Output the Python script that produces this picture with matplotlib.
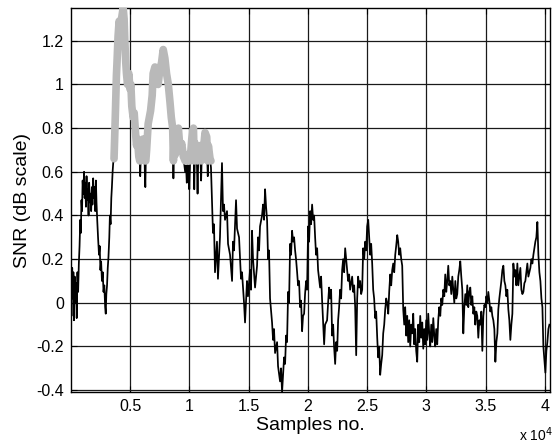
import numpy as np
import matplotlib
matplotlib.use('Agg')
import matplotlib.pyplot as plt

plt.rcParams['font.family'] = ['Liberation Sans', 'DejaVu Sans']

# SNR trace (sample no., dB)
samples = [
    0, 60, 120, 170, 220, 270, 330, 390, 450, 500, 560, 620, 680, 740, 800, 850, 900, 950,
    1000, 1060, 1120, 1170, 1220, 1280, 1330, 1390, 1440, 1500, 1550, 1610, 1660, 1720,
    1780, 1830, 1890, 1940, 2000, 2060, 2120, 2170, 2230, 2300, 2380, 2440, 2500, 2560,
    2630, 2700, 2760, 2830, 2900, 2950, 3000, 3060, 3120, 3180, 3250, 3300, 3360, 3420,
    3470, 3530, 3580,
    3650, 3700, 3770, 3850, 3900, 3990, 4080, 4200, 4280, 4420, 4500, 4560, 4640, 4700,
    4790, 4900, 4990, 5070, 5150, 5260, 5350, 5460, 5550, 5630, 5740, 5820, 5860, 5900,
    5960, 6100, 6200, 6250, 6290, 6330, 6400, 6530, 6735, 6870, 6950, 7100, 7240, 7370,
    7520, 7660, 7800, 7940, 8080, 8230, 8370, 8480, 8600, 8660, 8720, 8830, 8940, 9080,
    9220, 9360, 9500, 9650, 9700, 9790, 9850, 9930, 10000, 10070, 10210, 10350, 10420,
    10490, 10630, 10700, 10770, 10910, 11000, 11050, 11190, 11330, 11470, 11560, 11610,
    11750, 11830,
    11915, 12000, 12085, 12170, 12337, 12420, 12590, 12760, 12845, 12930, 13015, 13185,
    13270, 13440, 13610, 13690, 13775, 13945, 14030, 14200, 14365, 14450, 14620, 14705,
    14870, 14955, 15125, 15210, 15295, 15380, 15550, 15720, 15800, 15890, 15970, 16140,
    16225, 16310, 16395, 16480, 16565, 16650, 16730, 16815, 16985, 17070, 17150, 17240,
    17410, 17490, 17660, 17745, 17830, 17915, 18000, 18085, 18170, 18250, 18340, 18420,
    18510, 18590, 18675, 18760, 18845, 18930, 19010, 19100, 19180, 19265, 19350, 19435,
    19520, 19600, 19690, 19770, 19860, 19940, 20030, 20110, 20200, 20280, 20365, 20450,
    20535, 20620, 20700, 20790, 20870, 21040, 21125, 21210, 21290, 21380, 21460, 21630,
    21715, 21800, 21885, 21970, 22055, 22140, 22220, 22310, 22390, 22480, 22560, 22645,
    22730, 22815, 22900, 22985, 23070, 23155, 23240, 23320, 23405, 23490, 23575, 23660,
    23745, 23830, 23915, 24000, 24085, 24170, 24250, 24340, 24420, 24505, 24590, 24675,
    24760, 24845, 24930, 25010, 25100, 25180, 25265, 25350, 25435, 25520, 25600, 25690,
    25770, 25860, 25940, 26030, 26110, 26195, 26280, 26365, 26450, 26535, 26620, 26700,
    26790, 26870, 26960, 27040, 27125, 27210, 27295, 27380, 27460, 27550, 27630, 27715,
    27800, 27885, 27970, 28055, 28140, 28220, 28310, 28390, 28475, 28560, 28645, 28730,
    28815, 28900, 28980, 29065, 29150, 29235, 29320, 29405, 29490, 29575, 29660, 29745,
    29830, 29910, 29995, 30080, 30165, 30250, 30335, 30420, 30505, 30590, 30675, 30755,
    30840, 30925, 31010, 31095, 31180, 31265, 31350, 31435, 31520, 31600, 31685, 31770,
    31855, 31940, 32025, 32110, 32195, 32280, 32365, 32450, 32530, 32615, 32700, 32785,
    32870, 32955, 33040, 33125, 33210, 33295, 33380, 33460, 33545, 33630, 33715, 33800,
    33885, 33970, 34055, 34135, 34220, 34305, 34390, 34475, 34560, 34645, 34730, 34815,
    34900, 34985, 35070, 35150, 35235, 35320, 35405, 35490, 35575, 35660, 35745, 35830,
    35915, 36000, 36080, 36165, 36250, 36335, 36420, 36505, 36590, 36675, 36760, 36840,
    36925, 37010, 37095, 37180, 37265, 37350, 37435, 37520, 37600, 37685, 37770, 37855,
    37940, 38025, 38110, 38195, 38280, 38360, 38445, 38530, 38615, 38700, 38785, 38870,
    38955, 39040, 39120, 39205, 39290, 39375, 39460, 39545, 39630, 39715, 39800, 39880,
    39965, 40050, 40135, 40220, 40305, 40390,
]
snr = [
    0.10, -0.06, 0.16, 0.02, 0.14, -0.08, 0.12, 0.00, 0.09, -0.07, 0.14, 0.05, 0.18, 0.26,
    0.38, 0.32, 0.47, 0.42, 0.56, 0.50, 0.60, 0.48, 0.55, 0.44, 0.58, 0.47, 0.52, 0.40,
    0.55, 0.46, 0.50, 0.42, 0.53, 0.45, 0.57, 0.48, 0.53, 0.42, 0.56, 0.46, 0.38, 0.30,
    0.22, 0.26, 0.15, 0.19, 0.10, 0.14, 0.05, 0.08, -0.02, -0.05, 0.04, 0.08, 0.16, 0.21,
    0.30, 0.40, 0.36, 0.48, 0.53, 0.60, 0.64,
    0.66, 0.75, 0.88, 1.04, 1.10, 1.22, 1.29, 1.25, 1.30, 1.35, 1.30, 1.20, 1.10, 1.05,
    1.00, 1.05, 0.98, 1.00, 0.90, 0.85, 0.87, 0.78, 0.72, 0.75, 0.67, 0.65, 0.58, 0.66,
    0.68, 0.75, 0.72, 0.60, 0.53, 0.65, 0.70, 0.82, 0.88, 0.95, 1.05, 1.08, 1.03, 1.00,
    1.07, 1.10, 1.16, 1.12, 1.05, 1.00, 0.92, 0.85, 0.80, 0.57, 0.75, 0.68, 0.75, 0.80,
    0.70, 0.73, 0.67, 0.60, 0.66, 0.55, 0.64, 0.68, 0.52, 0.65, 0.75, 0.80, 0.52,
    0.73, 0.68, 0.50, 0.70, 0.72, 0.56, 0.67, 0.70, 0.78, 0.76, 0.58, 0.72,
    0.66, 0.62,
    0.47, 0.32, 0.36, 0.14, 0.28, 0.11, 0.30, 0.64, 0.42, 0.45, 0.38, 0.42,
    0.27, 0.22, 0.10, 0.28, 0.24, 0.47, 0.34, 0.30, 0.11, 0.14, 0.00, -0.09,
    0.10, 0.03, 0.15, 0.06, 0.33, 0.20, 0.07, 0.17, 0.30, 0.24, 0.35, 0.40,
    0.45, 0.38, 0.52, 0.44, 0.38, 0.20, 0.24, 0.02, -0.09, -0.17, -0.12, -0.23,
    -0.18, -0.29, -0.36, -0.30, -0.41, -0.33, -0.25, -0.28, -0.15, -0.18, 0.05, 0.00,
    0.27, 0.22, 0.33, 0.28, 0.30, 0.24, 0.20, 0.14, 0.08, 0.10, -0.02, 0.01,
    -0.13, -0.06, -0.05, 0.04, 0.10, 0.06, 0.35, 0.28, 0.42, 0.36, 0.45, 0.38,
    0.40, 0.30, 0.22, 0.25, 0.15, 0.07, 0.12, 0.01, -0.08, -0.19, -0.10, -0.08,
    0.00, 0.07, 0.02, 0.06, -0.15, -0.10, -0.20, -0.28, -0.18, -0.22, -0.08, -0.02,
    0.06, 0.02, 0.15, 0.20, 0.14, 0.25, 0.20, 0.15, 0.10, 0.13, 0.06, 0.09,
    0.12, 0.05, 0.08, -0.02, -0.24, 0.02, 0.12, 0.07, 0.10, 0.04, 0.06, 0.25,
    0.20, 0.28, 0.24, 0.35, 0.38, 0.30, 0.22, 0.27, 0.18, 0.06, 0.02, -0.07,
    -0.04, -0.16, -0.25, -0.20, -0.33, -0.28, -0.24, -0.14, -0.10, -0.03, 0.02, 0.00,
    -0.05, 0.05, 0.13, 0.08, 0.15, 0.18, 0.14, 0.22, 0.26, 0.31, 0.28, 0.22,
    0.25, 0.20, 0.17, -0.03, -0.10, -0.02, -0.15, -0.06, -0.18, -0.08, -0.20, -0.10,
    -0.14, -0.05, -0.19, -0.12, -0.22, -0.27, -0.10, -0.18, -0.06, -0.16, -0.09, -0.21,
    -0.12, -0.19, -0.08, -0.17, -0.05, -0.14, -0.20, -0.10, -0.18, -0.07, -0.15, -0.20,
    -0.12, -0.19, -0.08, -0.02, -0.06, 0.02, -0.01, 0.06, 0.03, 0.13, 0.05, 0.10,
    0.17, 0.08, 0.10, 0.04, 0.12, 0.06, 0.00, 0.10, 0.02, 0.04, 0.12, 0.15,
    0.19, 0.12, 0.06, -0.14, -0.02, 0.04, -0.01, 0.08, -0.02, 0.05, 0.07, -0.01,
    0.03, -0.05, -0.02, -0.10, -0.04, -0.06, -0.16, -0.08, -0.10, -0.04, -0.22, -0.06,
    -0.01, -0.02, 0.03, 0.00, 0.05, 0.01, -0.04, -0.02, -0.06, -0.08, -0.12, -0.27,
    -0.18, -0.14, -0.03, 0.02, 0.06, 0.10, 0.15, 0.17, 0.10, 0.08, 0.03, 0.06,
    -0.03, -0.08, -0.17, -0.10, -0.05, 0.18, 0.12, 0.15, 0.08, 0.18, 0.08, 0.12,
    0.16, 0.06, 0.04, 0.05, 0.09, 0.10, 0.14, 0.18, 0.12, 0.14, 0.16, 0.20,
    0.18, 0.22, 0.25, 0.28, 0.30, 0.37, 0.22, 0.14, 0.10, 0.02, -0.02, -0.20,
    -0.26, -0.32, -0.22, -0.18, -0.12, -0.10,
]

# part of the trace highlighted in grey (above threshold)
hl_start, hl_end = 3650, 11830
hl_threshold = 0.65

xticks = [5000, 10000, 15000, 20000, 25000, 30000, 35000, 40000]
xticklabels = ['0.5', '1', '1.5', '2', '2.5', '3', '3.5', '4']
yticks = [-0.4, -0.2, 0, 0.2, 0.4, 0.6, 0.8, 1, 1.2]
yticklabels = ['-0.4', '-0.2', '0', '0.2', '0.4', '0.6', '0.8', '1', '1.2']

x = np.array(samples)
y = np.array(snr)
sel = (x >= hl_start) & (x <= hl_end)

fig = plt.figure(figsize=(5.53, 4.47), dpi=100)
ax = fig.add_axes([0.128, 0.1223, 0.8657, 0.8597])

ax.plot(x, y, color='black', lw=1.25, zorder=3)
ax.plot(x[sel], np.maximum(y[sel], hl_threshold), color='#b9b9b9', lw=5.5,
        solid_capstyle='round', solid_joinstyle='round', zorder=4)

ax.set_xlim(0, 40400)
ax.set_ylim(-0.41, 1.35)
ax.set_xticks(xticks)
ax.set_xticklabels(xticklabels)
ax.set_yticks(yticks)
ax.set_yticklabels(yticklabels)
ax.tick_params(direction='in', top=True, right=True, labelsize=11.5, length=4, pad=5)
ax.grid(True, color='0.1', lw=0.9, ls='-')
ax.set_axisbelow(True)
for s in ax.spines.values():
    s.set_linewidth(1.0)

ax.set_xlabel('Samples no.', fontsize=14, labelpad=2)
ax.set_ylabel('SNR (dB scale)', fontsize=14, labelpad=4)
fig.text(0.999, 0.006, r'x 10$^{4}$', ha='right', va='bottom', fontsize=10)

fig.savefig('out.png', dpi=100)
